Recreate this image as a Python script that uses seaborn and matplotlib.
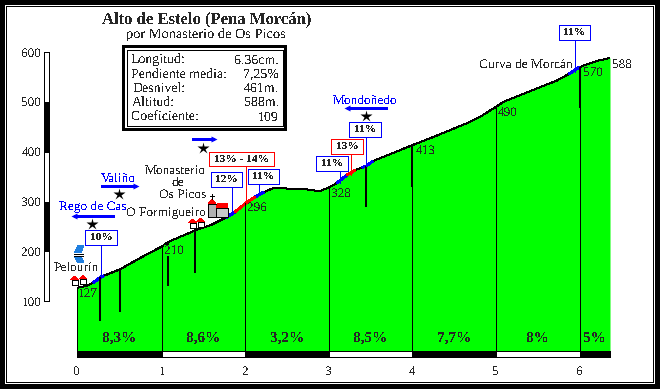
import numpy as np
import pandas as pd
import matplotlib
matplotlib.use('Agg')
import matplotlib.pyplot as plt
import seaborn as sns
from matplotlib.patches import Rectangle, Polygon

# perfil
km = [0, 0.10, 0.195, 0.28, 0.32, 0.513, 0.79, 1.015, 1.09, 1.41, 1.6, 1.78, 1.885, 2.01, 2.125, 2.23,
      2.36, 2.5, 2.70, 2.78, 2.90, 3.005, 3.10, 3.22, 3.32, 3.40, 3.45, 3.53, 4.0, 4.26, 4.65, 4.81, 5.0,
      5.09, 5.49, 5.73, 5.87, 6.0, 6.2, 6.36]
elev = [127, 130, 137, 148, 151, 164, 190, 210, 219, 242, 253, 268, 279, 296, 309, 319,
        328, 326, 326, 323, 321, 328, 337, 353, 363, 368, 371, 381, 413, 430, 457, 470, 490,
        500, 527, 543, 556, 570, 582, 588]

km_breaks = [0, 1.015, 2.01, 3.005, 4.0, 5.0, 6.0, 6.36]
km_labels = ['0', '1', '2', '3', '4', '5', '6']
grades = ['8,3%', '8,6%', '3,2%', '8,5%', '7,7%', '8%', '5%']

# tramos duros: inicio, fin
blue_stretches = [(0.195, 0.32), (1.78, 1.885), (2.125, 2.23), (3.10, 3.22), (3.40, 3.53), (5.87, 6.0)]
red_stretches = [(1.885, 2.125), (3.22, 3.32)]

# marcas gruesas: km, cota arriba, cota abajo
mark_km = [0.28, 0.513, 1.09, 1.41, 3.45, 4.0, 6.0]
mark_top = [148, 164, 219, 242, 371, 413, 570]
mark_bottom = [61, 79, 131, 157, 288, 330, 488]

y_ticks = [100, 200, 300, 400, 500, 600]

info_names = ['Longitud:', 'Pendiente media:', 'Desnivel:', 'Altitud:', 'Coeficiente:']
info_values = ['6.36cm.', '7,25%', '461m.', '588m.', '109']

elev_labels = ['127', '210', '296', '328', '413', '490', '570', '588']

GREEN = '#00ff00'
BLUE = '#0000ff'
RED = '#ff0000'
SERIF = 'Liberation Serif'
THIN = 0.72

sns.set_style('white')
plt.rcParams['font.family'] = [SERIF, 'DejaVu Serif']
plt.rcParams['text.antialiased'] = False
plt.rcParams['text.hinting'] = 'no_hinting'
plt.rcParams['lines.antialiased'] = False
plt.rcParams['patch.antialiased'] = False
plt.rcParams['lines.solid_capstyle'] = 'butt'

W, H = 660, 389
fig = plt.figure(figsize=(W / 100, H / 100), dpi=100, facecolor='white')


def pixel_axes(z):
    a = fig.add_axes([0, 0, 1, 1], zorder=z)
    a.set_xlim(0, W)
    a.set_ylim(H, 0)
    a.axis('off')
    return a


bg = pixel_axes(0)
ov = pixel_axes(2)

# marco
bg.add_patch(Rectangle((0, 0), W, H, fc='black', ec='none'))
bg.add_patch(Rectangle((5, 5), W - 10, H - 10, fc='white', ec='none'))
bg.add_patch(Rectangle((6, 6), W - 12, H - 12, fc='black', ec='none'))
bg.add_patch(Rectangle((7, 7), W - 14, H - 14, fc='white', ec='none'))

# ejes del perfil
ax = fig.add_axes([77 / W, (H - 351) / H, (610 - 77) / W, (351 - 52) / H], zorder=1)
ax.patch.set_visible(False)
ax.set_xlim(0, 6.36)
ax.set_ylim(0, 600)
for s in ax.spines.values():
    s.set_visible(False)

df = pd.DataFrame({'km': km, 'elev': elev})
ax.fill_between(df['km'], df['elev'], 0, color=GREEN, lw=0)
sns.lineplot(data=df, x='km', y='elev', color='black', lw=THIN, ax=ax, errorbar=None, sort=False)

for stretches, color in [(blue_stretches, BLUE), (red_stretches, RED)]:
    for a, b in stretches:
        part = df[(df['km'] >= a) & (df['km'] <= b)]
        sns.lineplot(data=part, x='km', y='elev', color=color, lw=1.4, ax=ax, errorbar=None, sort=False)

# lineas de km hasta el perfil
tops = [elev[km.index(b)] if b in km else 0 for b in km_breaks]
ax.vlines(km_breaks, 0, tops, color='black', lw=THIN)
ax.vlines(mark_km, mark_bottom, mark_top, color='black', lw=1.44)

# barra inferior
for i in range(len(km_breaks) - 1):
    c = 'black' if i % 2 == 0 else 'white'
    ax.add_patch(Rectangle((km_breaks[i], -11.5), km_breaks[i + 1] - km_breaks[i], 11.5, fc=c, ec='black',
                           lw=THIN, clip_on=False))
    ax.text((km_breaks[i] + km_breaks[i + 1]) / 2, 10, grades[i], ha='center', va='bottom', fontsize=11,
            fontweight='bold')

# barra de altitud
x_bar = -33.3 / 83.8
for i in range(len(y_ticks) - 1):
    c = 'black' if i in (1, 3) else 'white'
    ax.add_patch(Rectangle((x_bar, y_ticks[i]), 5 / 83.8, 100, fc=c, ec='black', lw=THIN, clip_on=False))

ax.set_xticks(km_breaks[:-1])
ax.set_xticklabels(km_labels)
ax.set_yticks(y_ticks)
ax.set_xlabel('')
ax.set_ylabel('')
ax.tick_params(axis='x', length=0, pad=10.5, labelsize=9.5)
ax.tick_params(axis='y', length=0, pad=25.5, labelsize=9.5)

# titulos
ov.text(207, 20, 'Alto de Estelo (Pena Morcán)', ha='center', va='center', fontsize=12, fontweight='bold')
ov.text(206, 35, 'por Monasterio de Os Picos', ha='center', va='center', fontsize=10.4)

# cuadro de datos
ov.add_patch(Rectangle((122, 45), 165, 86, fc='black', ec='none'))
ov.add_patch(Rectangle((125, 48), 159, 80, fc='white', ec='none'))
ov.add_patch(Rectangle((127, 50), 156, 76, fc='white', ec='black', lw=THIN))
rows = [60, 74, 88, 102, 117]
lefts = [131, 131, 133, 132, 131]
for name, value, y, x in zip(info_names, info_values, rows, lefts):
    ov.text(x, y, name, ha='left', va='center', fontsize=10)
    ov.text(279, y, value, ha='right', va='center', fontsize=10)


def grade_box(x0, x1, y0, y1, xl, yl, text, color):
    ov.plot([xl, xl], [y1, yl], color=color, lw=THIN)
    ov.add_patch(Rectangle((x0, y0), x1 - x0, y1 - y0, fc='white', ec=color, lw=THIN))
    ov.text((x0 + x1) / 2, (y0 + y1) / 2, text, ha='center', va='center', fontsize=8.2, fontweight='bold')


grade_box(85, 117, 230, 245, 100.5, 278, '10%', BLUE)
grade_box(209, 274, 152, 166, 245.5, 202, '13% - 14%', RED)
grade_box(211, 242, 172, 187, 231.5, 215, '12%', BLUE)
grade_box(248, 279, 169, 184, 259, 193, '11%', BLUE)
grade_box(316, 348, 156, 171, 339.5, 183, '11%', BLUE)
grade_box(331, 363, 139, 154, 350.5, 175, '13%', RED)
grade_box(349, 381, 122, 137, 365.5, 166, '11%', BLUE)
grade_box(559, 590, 25, 40, 574.5, 72, '11%', BLUE)


def arrow(x0, x1, y):
    ov.plot([x0, x1], [y, y], color=BLUE, lw=1.8)
    ov.plot([x1], [y], marker='>' if x1 > x0 else '<', ms=4, color=BLUE, mec='none')


arrow(101, 136, 186)
arrow(114, 74, 216)
arrow(192, 214, 139)
arrow(387, 347, 108)
for x, y in [(119, 194), (92, 224), (203, 148), (366, 116)]:
    ov.plot([x], [y], marker='*', ms=9, color='black', mec='none')

for x, y, t in [(118, 179, 'Valiño'), (93, 206, 'Rego de Cas'), (365, 101, 'Mondoñedo')]:
    ov.text(x, y, t, color=BLUE, ha='center', va='center', fontsize=9.6)

for x, y, t in [(76, 268, 'Pelourín'), (166, 213, 'O Formigueiro'), (175, 170.5, 'Monasterio'), (178, 182.5, 'de'),
                (183, 194.5, 'Os Picos'), (526, 65, 'Curva de Morcán')]:
    ov.text(x, y, t, ha='center', va='center', fontsize=9.6)

lab_x = [78, 164, 247, 331, 416, 498, 583, 612]
lab_y = [294, 250.5, 208, 194, 151, 113, 73, 65]
for x, y, t in zip(lab_x, lab_y, elev_labels):
    box = dict(fc=GREEN, ec='none', pad=0) if t == '210' else None
    ov.text(x, y, t, ha='left', va='center', fontsize=9.5, bbox=box)


def house(x, base):
    ov.add_patch(Rectangle((x - 3, base - 5), 6, 5, fc='white', ec='black', lw=THIN))
    ov.add_patch(Polygon([(x - 4, base - 5), (x, base - 9), (x + 4, base - 5)], fc=RED, ec='none'))


house(74.5, 285)
house(83, 284)
house(192.5, 228)
house(200.5, 227)

# iglesia
ov.add_patch(Rectangle((208, 204), 8, 13, fc='#b0b0b0', ec='black', lw=THIN))
ov.add_patch(Rectangle((216, 208), 12, 9, fc='#c8c8c8', ec='black', lw=THIN))
ov.add_patch(Polygon([(208, 204), (212, 199), (216, 204)], fc=RED, ec='none'))
ov.add_patch(Polygon([(216, 208), (218, 203), (228, 203), (228, 208)], fc=RED, ec='none'))
ov.plot([212, 212], [194, 199], color='black', lw=THIN)
ov.plot([210, 214], [196, 196], color='black', lw=THIN)

# puente
ov.add_patch(Polygon([(78, 245), (84, 245), (81, 253), (74, 253)], fc='#1f7fe0', ec='none'))
ov.add_patch(Polygon([(74, 256), (81, 256), (84, 263), (78, 263)], fc='#1f7fe0', ec='none'))
ov.plot([74, 83], [253.5, 253.5], color='black', lw=THIN)
ov.plot([74, 83], [256, 256], color='black', lw=THIN)

fig.savefig('out.png', dpi=100)
